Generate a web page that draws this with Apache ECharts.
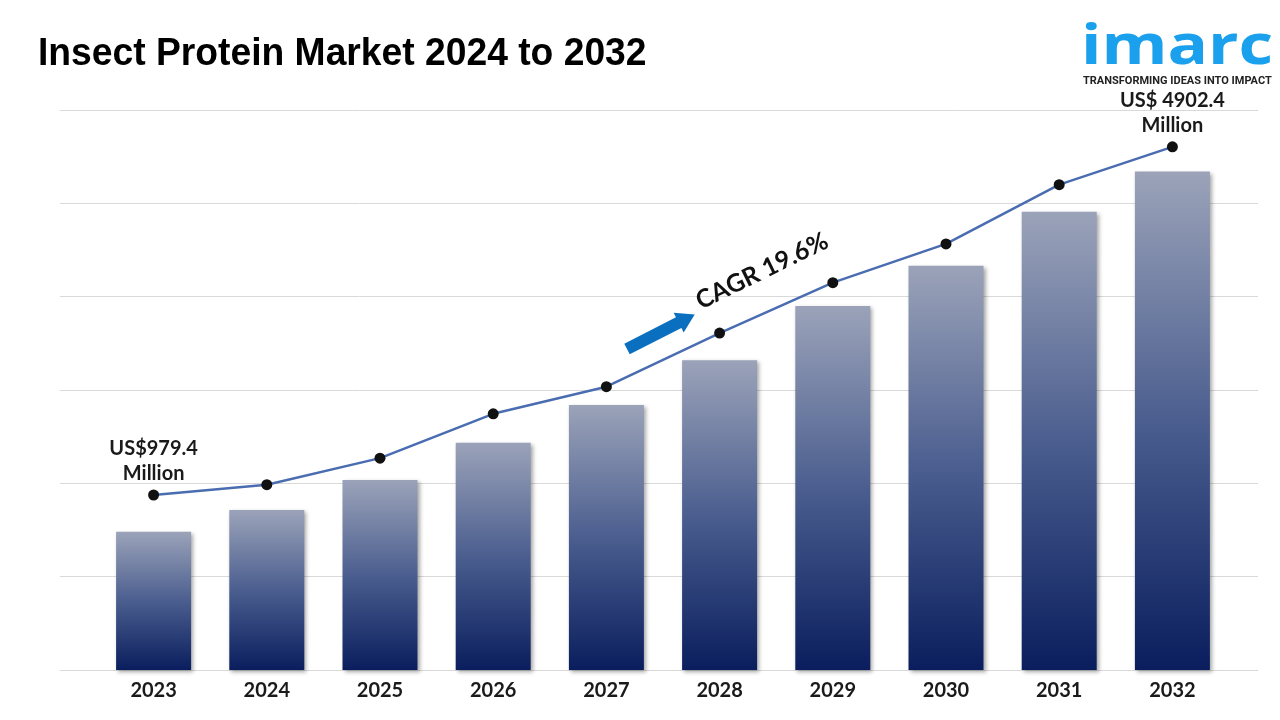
<!DOCTYPE html>
<html>
<head>
<meta charset="utf-8">
<script src="https://cdn.jsdelivr.net/npm/echarts@6/dist/echarts.min.js"></script>
<style>
html,body{margin:0;padding:0;background:#fff;}
#chart{width:1280px;height:720px;}
</style>
</head>
<body>
<div id="chart"></div>
<script>
// ---- data (hidden scale: one gridline step = 1000) ----
const years = ['2023','2024','2025','2026','2027','2028','2029','2030','2031','2032'];
const barValues = [1480, 1715, 2035, 2435, 2840, 3320, 3900, 4330, 4910, 5340];
const lineValues = [1875, 1985, 2270, 2745, 3035, 3610, 4150, 4565, 5200, 5605];
const startLabel = 'US$979.4\nMillion';
const endLabel = 'US$ 4902.4\nMillion';
const cagrText = 'CAGR 19.6%';
const titleText = 'Insect Protein Market 2024 to 2032';
const yTicks = [0, 6000, 1000]; // min, max, interval

const chart = echarts.init(document.getElementById('chart'));

const lineLabelStyle = {
  show: true,
  position: 'top',
  distance: 3,
  fontFamily: 'Lato',
  fontWeight: 'bold',
  fontSize: 20,
  lineHeight: 25,
  color: '#1a1a1a',
  align: 'center'
};

const lineData = lineValues.map((v, i) => {
  if (i === 0) return { value: v, label: Object.assign({}, lineLabelStyle, { formatter: startLabel }) };
  if (i === lineValues.length - 1) return { value: v, label: Object.assign({}, lineLabelStyle, { formatter: endLabel }) };
  return v;
});

const barGradient = new echarts.graphic.LinearGradient(0, 0, 0, 1, [
  { offset: 0, color: '#9ba3b9' },
  { offset: 0.5, color: '#4b5e8f' },
  { offset: 1, color: '#0a1e5e' }
]);

const option = {
  backgroundColor: '#ffffff',
  animation: false,
  grid: [
    { left: 60, right: 22, top: 110, bottom: 50 },
    { left: 97, right: 51, top: 110, bottom: 50 }
  ],
  xAxis: [
    { gridIndex: 0, type: 'category', data: years, show: false },
    {
      gridIndex: 1, type: 'category', data: years,
      axisLine: { show: false }, axisTick: { show: false },
      axisLabel: { margin: 11, fontFamily: 'Lato', fontWeight: 'bold', fontSize: 20, color: '#1a1a1a' }
    }
  ],
  yAxis: [
    {
      gridIndex: 0, type: 'value', min: yTicks[0], max: yTicks[1], interval: yTicks[2],
      axisLabel: { show: false }, axisLine: { show: false }, axisTick: { show: false },
      splitLine: { show: true, lineStyle: { color: '#d9d9d9', width: 1 } }
    },
    {
      gridIndex: 1, type: 'value', min: yTicks[0], max: yTicks[1], interval: yTicks[2],
      show: false, splitLine: { show: false }
    }
  ],
  series: [
    {
      type: 'bar', xAxisIndex: 1, yAxisIndex: 1, data: barValues, barWidth: 75,
      itemStyle: {
        color: barGradient,
        shadowColor: 'rgba(0,0,0,0.35)', shadowBlur: 4, shadowOffsetX: 2, shadowOffsetY: 2
      },
      z: 2
    },
    {
      type: 'line', xAxisIndex: 1, yAxisIndex: 1, data: lineData,
      symbol: 'circle', symbolSize: 11,
      itemStyle: { color: '#111111' },
      lineStyle: { color: '#4a6db2', width: 2.5 },
      z: 5
    }
  ],
  graphic: [
    {
      type: 'text', x: 38, y: 55, scaleX: 0.98,
      style: { text: titleText, fontFamily: 'Liberation Sans', fontWeight: 'bold', fontSize: 38, fill: '#000', verticalAlign: 'middle' }
    },
    {
      type: 'text', x: 1081, y: 48, scaleX: 1.2,
      style: { text: 'imarc', fontFamily: 'Open Sans', fontWeight: 700, fontSize: 56, fill: '#1aa0ec', verticalAlign: 'middle' }
    },
    {
      type: 'text', x: 1083, y: 81,
      style: { text: 'TRANSFORMING IDEAS INTO IMPACT', fontFamily: 'Roboto', fontWeight: 'bold', fontSize: 11, fill: '#222', verticalAlign: 'middle' }
    },
    {
      type: 'polygon', x: 627, y: 349, rotation: 27 * Math.PI / 180,
      shape: { points: [[0,-6],[58,-6],[58,-11],[76,0],[58,11],[58,6],[0,6]] },
      style: { fill: '#0b6fc0' }, z: 10
    },
    {
      type: 'text', x: 762, y: 271, rotation: 26 * Math.PI / 180,
      style: { text: cagrText, fontFamily: 'Lato', fontWeight: 'bold', fontSize: 25, fill: '#111', align: 'center', verticalAlign: 'middle' },
      z: 10
    }
  ]
};
chart.setOption(option);
</script>
</body>
</html>
